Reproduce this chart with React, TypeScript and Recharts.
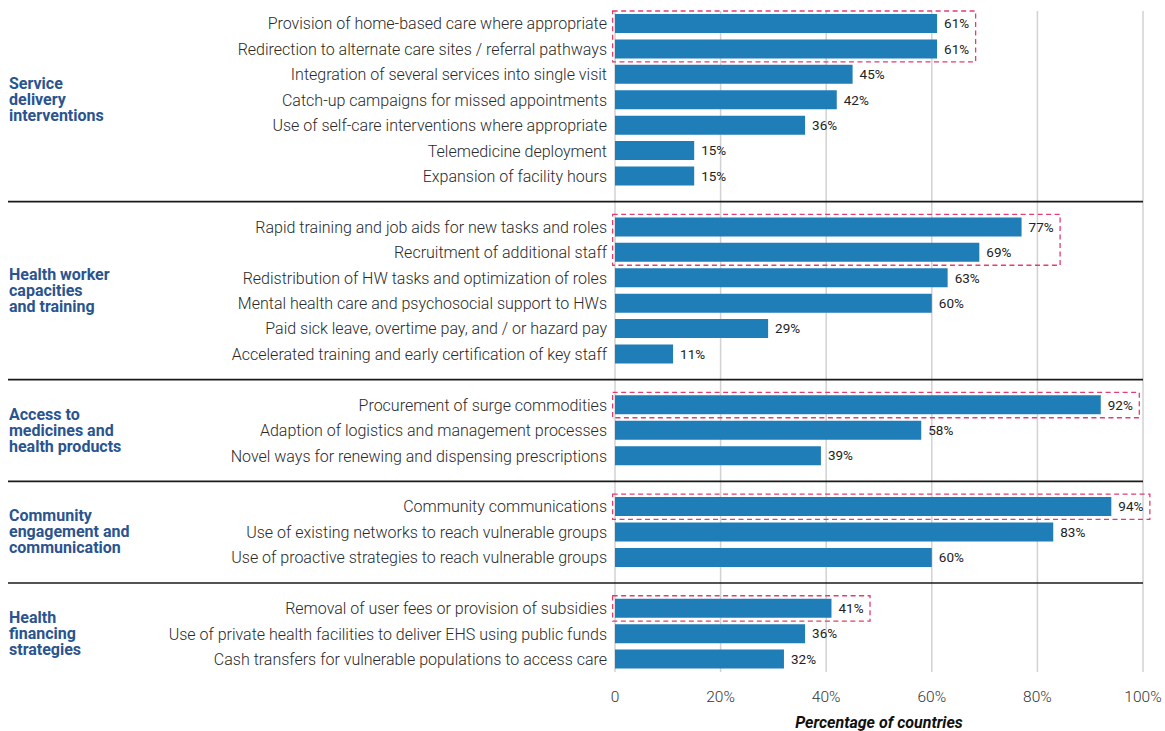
import React from 'react';
import {
  BarChart,
  Bar,
  XAxis,
  YAxis,
  CartesianGrid,
  LabelList,
  ReferenceLine,
  ReferenceArea,
} from 'recharts';

const groupNames: string[][] = [
  ['Service', 'delivery', 'interventions'],
  ['Health worker', 'capacities', 'and training'],
  ['Access to', 'medicines and', 'health products'],
  ['Community', 'engagement and', 'communication'],
  ['Health', 'financing', 'strategies'],
];

const serviceLabels = [
  'Provision of home-based care where appropriate',
  'Redirection to alternate care sites / referral pathways',
  'Integration of several services into single visit',
  'Catch-up campaigns for missed appointments',
  'Use of self-care interventions where appropriate',
  'Telemedicine deployment',
  'Expansion of facility hours',
];
const serviceValues = [61, 61, 45, 42, 36, 15, 15];

const workforceLabels = [
  'Rapid training and job aids for new tasks and roles',
  'Recruitment of additional staff',
  'Redistribution of HW tasks and optimization of roles',
  'Mental health care and psychosocial support to HWs',
  'Paid sick leave, overtime pay, and / or hazard pay',
  'Accelerated training and early certification of key staff',
];
const workforceValues = [77, 69, 63, 60, 29, 11];

const medicinesLabels = [
  'Procurement of surge commodities',
  'Adaption of logistics and management processes',
  'Novel ways for renewing and dispensing prescriptions',
];
const medicinesValues = [92, 58, 39];

const communityLabels = [
  'Community communications',
  'Use of existing networks to reach vulnerable groups',
  'Use of proactive strategies to reach vulnerable groups',
];
const communityValues = [94, 83, 60];

const financingLabels = [
  'Removal of user fees or provision of subsidies',
  'Use of private health facilities to deliver EHS using public funds',
  'Cash transfers for vulnerable populations to access care',
];
const financingValues = [41, 36, 32];

const highlightCounts = [2, 2, 1, 1, 1];
const xTicks = [0, 20, 40, 60, 80, 100];
const axisTitle = 'Percentage of countries';

const groups = [
  { labels: serviceLabels, values: serviceValues },
  { labels: workforceLabels, values: workforceValues },
  { labels: medicinesLabels, values: medicinesValues },
  { labels: communityLabels, values: communityValues },
  { labels: financingLabels, values: financingValues },
];

type Row = { id: string; label: string; value: number | null };
const rows: Row[] = [];
groups.forEach((g, gi) => {
  g.labels.forEach((label, i) => {
    rows.push({ id: `g${gi}-${i}`, label, value: g.values[i] });
  });
  if (gi < groups.length - 1) rows.push({ id: `gap${gi}`, label: '', value: null });
});
const labelById: Record<string, string> = {};
rows.forEach((r) => (labelById[r.id] = r.label));

const BAR_COLOR = '#1f7db8';
const HIGHLIGHT = '#e23d70';
const GROUP_COLOR = '#2a5490';
const LABEL_PAD = 7.3;

export default function App() {
  return (
    <div style={{ position: 'absolute', left: 0, top: 0, background: '#fff' }}>
      <BarChart
        width={1165}
        height={731}
        data={rows}
        layout="vertical"
        margin={{ top: 11, right: 22, bottom: 0, left: 0 }}
        style={{ fontFamily: 'Roboto, sans-serif' }}
      >
        <CartesianGrid horizontal={false} stroke="#d2d2d2" strokeWidth={1.5} />
        <XAxis
          type="number"
          domain={[0, 100]}
          ticks={xTicks}
          tickFormatter={(v: number) => (v === 0 ? '0' : `${v}%`)}
          axisLine={false}
          tickLine={false}
          tickMargin={13}
          height={59}
          tick={{ fill: '#333', fontSize: 15.5, fontWeight: 300 }}
          label={{
            value: axisTitle,
            position: 'insideBottom',
            offset: 3,
            style: { fontWeight: 700, fontStyle: 'italic', fontSize: 16, fill: '#111' },
          }}
        />
        <YAxis
          type="category"
          dataKey="id"
          width={615}
          interval={0}
          axisLine={false}
          tickLine={false}
          tickFormatter={(id: string) => labelById[id] ?? ''}
          tick={{ fill: '#2a2a2a', fontSize: 16, fontWeight: 300 }}
        />
        {groups.map((g, gi) =>
          gi < groups.length - 1 ? (
            <ReferenceLine
              key={`sep${gi}`}
              y={`gap${gi}`}
              ifOverflow="visible"
              shape={(p: any) => (
                <line x1={8} x2={p.x2} y1={p.y1} y2={p.y1} stroke="#1a1a1a" strokeWidth={1.6} />
              )}
            />
          ) : null
        )}
        {groups.map((g, gi) => (
          <ReferenceArea
            key={`lab${gi}`}
            y1={`g${gi}-0`}
            y2={`g${gi}-${g.labels.length - 1}`}
            x1={0}
            x2={1}
            ifOverflow="visible"
            shape={(p: any) => {
              const cy = p.y + p.height / 2 - 0.5;
              const lines = groupNames[gi];
              return (
                <text
                  x={9}
                  y={cy}
                  fill={GROUP_COLOR}
                  fontSize={16}
                  fontWeight={700}
                  fontFamily="Roboto, sans-serif"
                >
                  {lines.map((ln, li) => (
                    <tspan key={li} x={9} y={cy + (li - (lines.length - 1) / 2) * 16} dy="0.35em">
                      {ln}
                    </tspan>
                  ))}
                </text>
              );
            }}
          />
        ))}
        <Bar dataKey="value" fill={BAR_COLOR} barSize={19} isAnimationActive={false}>
          <LabelList
            dataKey="value"
            position="right"
            offset={7}
            fill="#222"
            fontSize={13.5}
            formatter={(v: any) => (v == null ? '' : `${v}%`)}
          />
        </Bar>
        {groups.map((g, gi) => {
          const n = highlightCounts[gi];
          const maxV = Math.max(...g.values.slice(0, n));
          return (
            <ReferenceArea
              key={`hl${gi}`}
              y1={`g${gi}-0`}
              y2={`g${gi}-${n - 1}`}
              x1={-0.45}
              x2={maxV + LABEL_PAD}
              ifOverflow="visible"
              fill="none"
              fillOpacity={0}
              stroke={HIGHLIGHT}
              strokeWidth={1.3}
              strokeDasharray="5 3.5"
            />
          );
        })}
      </BarChart>
    </div>
  );
}
